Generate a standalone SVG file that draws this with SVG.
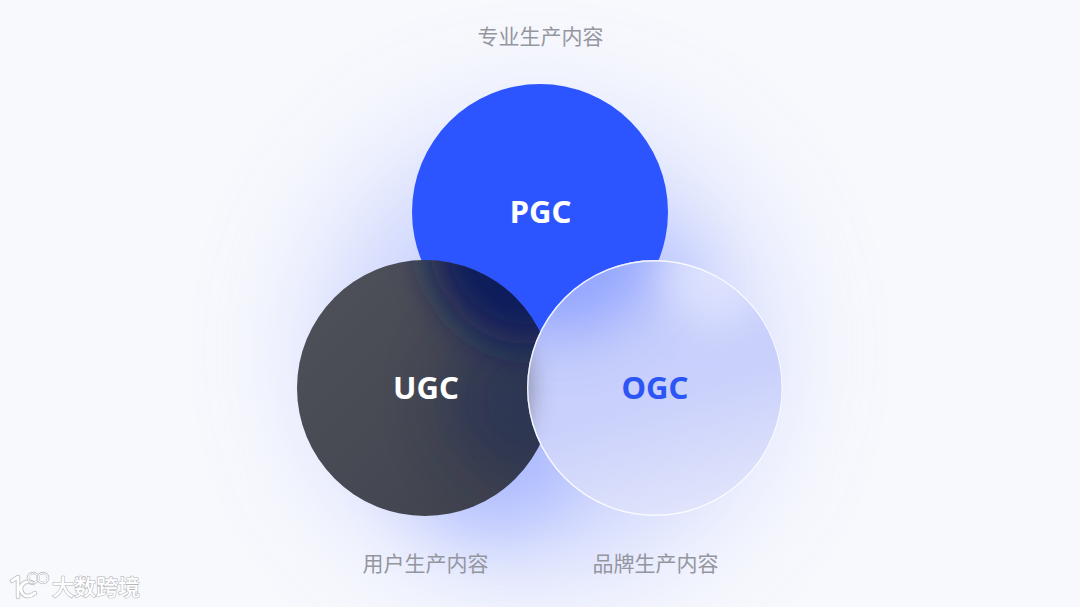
<svg xmlns="http://www.w3.org/2000/svg" width="1080" height="607" viewBox="0 0 1080 607">
<style>
.cap{font-family:"Noto Sans CJK SC","Noto Sans",sans-serif;font-size:21px;fill:#94969f;text-anchor:middle}
.lab{font-family:"Noto Sans","Noto Sans CJK SC",sans-serif;font-weight:700;font-size:31px;text-anchor:middle}
.wm{font-family:"Noto Sans CJK SC",sans-serif;font-size:22px;font-weight:500;fill:#fff;stroke:#b4b6bc;stroke-width:1.2px;paint-order:stroke}
</style>
<defs>
<filter id="b70" filterUnits="userSpaceOnUse" x="-300" y="-300" width="1680" height="1207"><feGaussianBlur stdDeviation="70"/></filter>
<filter id="b34" filterUnits="userSpaceOnUse" x="-300" y="-300" width="1680" height="1207"><feGaussianBlur stdDeviation="34"/></filter>
<filter id="b30" filterUnits="userSpaceOnUse" x="-300" y="-300" width="1680" height="1207"><feGaussianBlur stdDeviation="30"/></filter>
<filter id="b20" filterUnits="userSpaceOnUse" x="-300" y="-300" width="1680" height="1207"><feGaussianBlur stdDeviation="20"/></filter>
<filter id="b12" filterUnits="userSpaceOnUse" x="-300" y="-300" width="1680" height="1207"><feGaussianBlur stdDeviation="12"/></filter>
<clipPath id="cu"><circle cx="425" cy="388" r="128"/></clipPath>
<clipPath id="co"><circle cx="655" cy="388" r="128"/></clipPath>
<linearGradient id="gu" x1="0" y1="0" x2="1" y2="1"><stop offset="0" stop-color="#50525a"/><stop offset="1" stop-color="#3e404c"/></linearGradient>
<linearGradient id="go" x1="0.3" y1="0" x2="0.6" y2="1"><stop offset="0" stop-color="#c6cefc"/><stop offset=".55" stop-color="#c9d0fb"/><stop offset="1" stop-color="#e0e4fb"/></linearGradient>
</defs>
<rect width="1080" height="607" fill="#f8f9fd"/>
<g id="glow">
<circle cx="540" cy="350" r="210" fill="#7a90ff" opacity=".42" filter="url(#b70)"/>
<circle cx="490" cy="450" r="85" fill="#8197ff" opacity=".38" filter="url(#b34)"/>
<circle cx="650" cy="280" r="50" fill="#8ba0ff" opacity=".28" filter="url(#b30)"/>
</g>
<g id="pgc">
<circle cx="540" cy="212" r="128" fill="#2d55ff"/>
<text class="lab" x="540.500" y="223" fill="#fff">PGC</text>
</g>
<g id="ugc">
<circle cx="425" cy="388" r="128" fill="url(#gu)"/>
<g clip-path="url(#cu)">
<circle cx="530" cy="400" r="85" fill="#1c2a55" opacity=".55" filter="url(#b30)"/>
<circle cx="530" cy="245" r="100" fill="#0d1c5c" filter="url(#b20)"/>
</g>
<text class="lab" x="426" y="399" fill="#fff">UGC</text>
</g>
<g id="ogc">
<circle cx="655" cy="388" r="128" fill="url(#go)"/>
<g clip-path="url(#co)">
<circle cx="560" cy="235" r="100" fill="#8a9fff" opacity=".85" filter="url(#b30)"/>
<circle cx="715" cy="275" r="50" fill="#e4e8fe" opacity=".75" filter="url(#b20)"/>
<circle cx="412" cy="388" r="118" fill="#4a4c55" opacity=".55" filter="url(#b12)"/>
</g>
<circle cx="655" cy="388" r="127.300" fill="none" stroke="#fff" stroke-opacity=".85" stroke-width="1.400"/>
<text class="lab" x="655" y="399" fill="#2d55f5">OGC</text>
</g>
<g id="captions">
<text class="cap" x="540.500" y="44">专业生产内容</text>
<text class="cap" x="425.500" y="571">用户生产内容</text>
<text class="cap" x="655.500" y="571">品牌生产内容</text>
</g>
<g id="watermark">
<path d="M12 581 L18 577 V597 M33 583 C24 579 20 586 21 590 C23 598 30 597 35 593" fill="none" stroke="#b4b6bc" stroke-width="4.400" stroke-linecap="round" stroke-linejoin="round"/>
<path d="M12 581 L18 577 V597 M33 583 C24 579 20 586 21 590 C23 598 30 597 35 593" fill="none" stroke="#fff" stroke-width="3" stroke-linecap="round" stroke-linejoin="round"/>
<circle cx="33" cy="578" r="5" fill="none" stroke="#b4b6bc" stroke-width="2.500"/>
<circle cx="33" cy="578" r="5" fill="none" stroke="#fff" stroke-width="1.200"/>
<circle cx="43" cy="578" r="5" fill="none" stroke="#b4b6bc" stroke-width="2.500"/>
<circle cx="43" cy="578" r="5" fill="none" stroke="#fff" stroke-width="1.200"/>
<text class="wm" x="52" y="595" textLength="88">大数跨境</text>
</g>
</svg>
